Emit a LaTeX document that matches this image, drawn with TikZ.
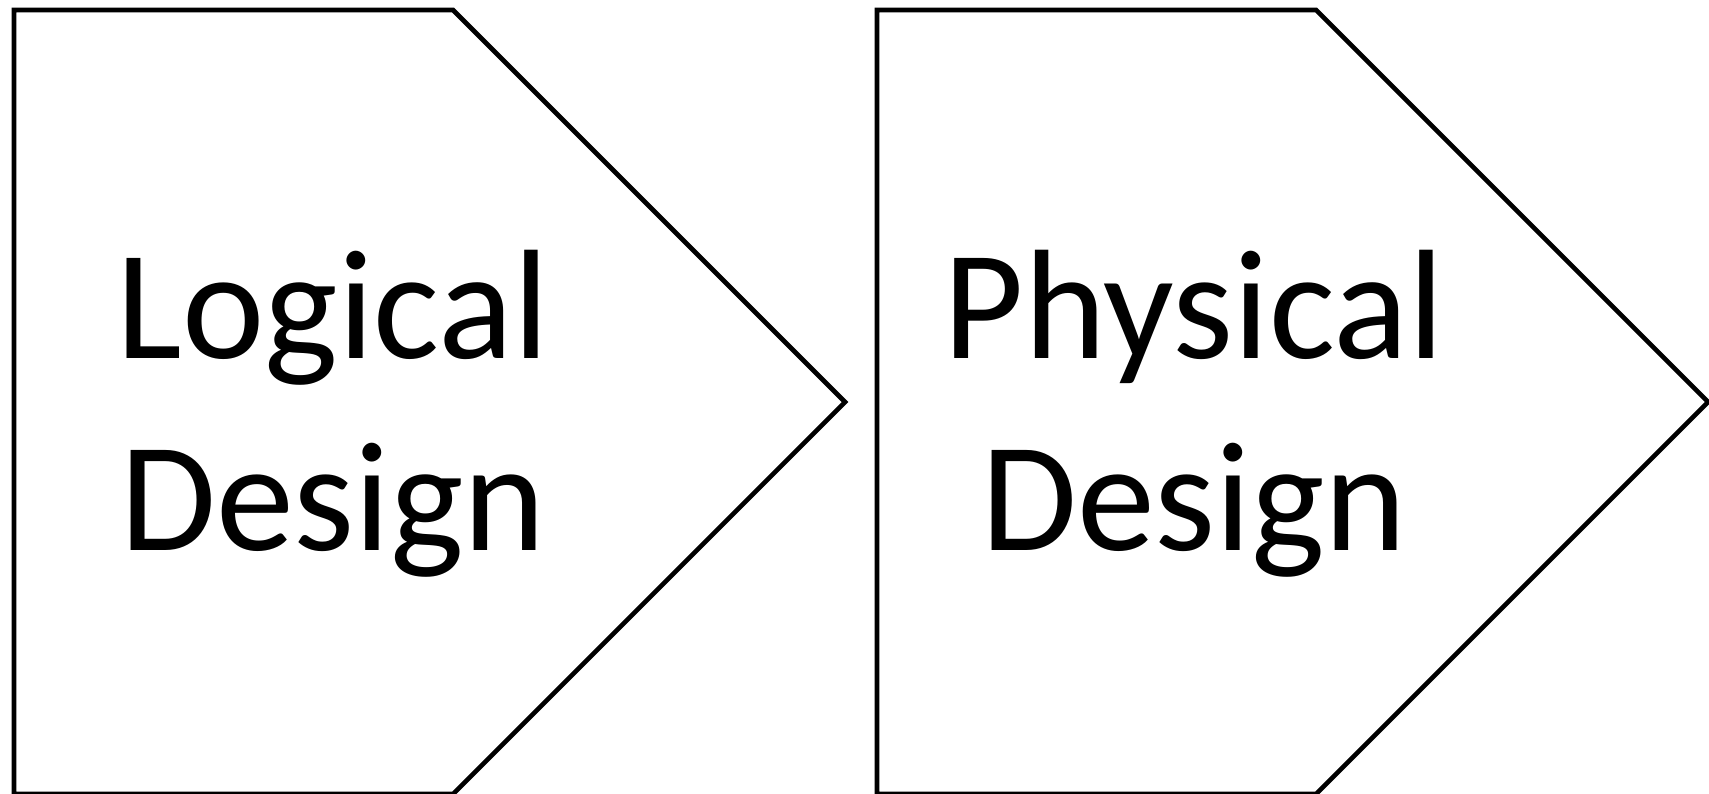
\documentclass[tikz,border=0pt]{standalone}
\usepackage{fontspec}
\setmainfont{Carlito}
\begin{document}
\begin{tikzpicture}[x=0.5pt, y=-0.5pt, line width=2.3pt, line join=miter,
  label/.style={inner sep=0pt, align=center, anchor=base,
    font=\fontsize{78}{96}\selectfont}]
\useasboundingbox (0,0) rectangle (1709,793);
% logical design
\draw (14,10) -- (453,10) -- (845,402) -- (453,794) -- (14,794) -- cycle;
\node[label] (logical) at (333,550) {Logical\\Design};
% physical design
\draw (877,10) -- (1316,10) -- (1708,402) -- (1316,794) -- (877,794) -- cycle;
\node[label] (physical) at (1194,550) {Physical\\Design};
\end{tikzpicture}
\end{document}
